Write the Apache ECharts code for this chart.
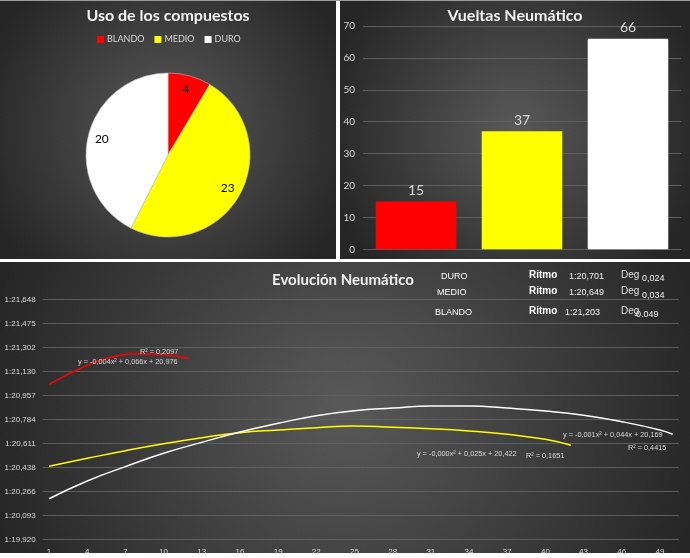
<!DOCTYPE html>
<html><head><meta charset="utf-8">
<script src="https://cdn.jsdelivr.net/npm/echarts@6/dist/echarts.min.js"></script>
<style>html,body{margin:0;padding:0;background:#fff;overflow:hidden}#c{width:690px;height:558px}</style>
</head><body><div id="c"></div>
<script>
// ---- data ----
const compounds = ['BLANDO', 'MEDIO', 'DURO'];
const compoundColors = ['#ff0000', '#ffff00', '#ffffff'];
const compoundUse = [4, 23, 20];
const tyreLaps = [15, 37, 66];
const barTicks = [0, 70, 10];

const lapCategories = ['1','2','3','4','5','6','7','8','9','10','11','12','13','14','15','16','17','18','19','20',
  '21','22','23','24','25','26','27','28','29','30','31','32','33','34','35','36','37','38','39','40',
  '41','42','43','44','45','46','47','48','49','50'];
const yTickLabels = ['1:19,920','1:20,093','1:20,266','1:20,438','1:20,611','1:20,784','1:20,957','1:21,130','1:21,302','1:21,475','1:21,648'];
const yBase = 79.92;   // seconds of first tick
const yStep = 0.1728;  // seconds between ticks

const redLaps = [1, 4, 6, 8, 10, 12];
const redTimes = [81.036, 81.173, 81.233, 81.256, 81.251, 81.220];
const yellowLaps = [1, 4, 7, 10, 13, 16, 19, 22, 25, 28, 31, 34, 37, 40, 42];
const yellowTimes = [80.446, 80.503, 80.558, 80.608, 80.652, 80.688, 80.707, 80.724, 80.736, 80.726, 80.716, 80.700, 80.676, 80.640, 80.597];
const whiteLaps = [1, 4, 7, 10, 13, 16, 19, 22, 25, 28, 31, 34, 37, 40, 43, 46, 49, 50];
const whiteTimes = [80.212, 80.340, 80.443, 80.539, 80.618, 80.693, 80.755, 80.810, 80.846, 80.865, 80.880, 80.880, 80.865, 80.844, 80.813, 80.767, 80.707, 80.676];

const statCompounds = ['DURO', 'MEDIO', 'BLANDO'];
const statPace = ['1:20,701', '1:20,649', '1:21,203'];
const statDeg = ['0,024', '0,034', '0.049'];

const trendEq = ['y = -0,004x\u00B2 + 0,066x + 20,976', 'y = -0,000x\u00B2 + 0,025x + 20,422', 'y = -0,001x\u00B2 + 0,044x + 20,169'];
const trendR2 = ['R\u00B2 = 0,2097', 'R\u00B2 = 0,1651', 'R\u00B2 = 0,4415'];

const titles = ['Uso de los compuestos', 'Vueltas Neum\u00E1tico', 'Evoluci\u00F3n Neum\u00E1tico'];

// ---- chart ----
const chart = echarts.init(document.getElementById('c'), null, {renderer: 'canvas'});
const bgGrad = (r) => ({type: 'radial', x: 0.5, y: 0.5, r: r, colorStops: [{offset: 0, color: '#595959'}, {offset: 1, color: '#262626'}]});
const TXT = '#d9d9d9';
const small = 'Liberation Sans, Arial, sans-serif';
const toTick = v => (v - yBase) / yStep;
const mkLine = (laps, times) => laps.map((l, i) => [String(l), toTick(times[i])]);

function txt(x, y, text, font, fill, align, extra) {
  return Object.assign({type: 'text', x: x, y: y, z: 100, silent: true,
    style: {text: text, font: font, fill: fill || TXT, textAlign: align || 'left', textVerticalAlign: 'middle'}}, extra || {});
}
const titleShadow = {shadowColor: 'rgba(0,0,0,0.7)', shadowBlur: 3, shadowOffsetX: 1, shadowOffsetY: 1};
function title(x, y, text, size) {
  const t = txt(x, y, text, 'bold ' + size + 'px Lato, sans-serif', '#f2f2f2', 'center');
  Object.assign(t.style, titleShadow);
  return t;
}

const graphics = [
  {type: 'rect', z: -10, silent: true, shape: {x: 0, y: 0, width: 690, height: 1}, style: {fill: '#9a9a9a'}},
  {type: 'rect', z: -10, silent: true, shape: {x: 0, y: 1, width: 336, height: 258}, style: {fill: bgGrad(0.75)}},
  {type: 'rect', z: -10, silent: true, shape: {x: 340, y: 1, width: 350, height: 258}, style: {fill: bgGrad(0.75)}},
  {type: 'rect', z: -10, silent: true, shape: {x: 0, y: 262, width: 690, height: 291}, style: {fill: bgGrad(1.25)}},
  title(168, 16, titles[0], 16),
  title(515, 16, titles[1], 16),
  title(343, 280, titles[2], 15)
];
const rowY = [276.5, 293, 312.5];
const labX = [441, 437, 435];
statCompounds.forEach((c, i) => {
  graphics.push(txt(labX[i], rowY[i], c, '9px ' + small, '#ffffff'));
  graphics.push(txt(529, rowY[i] - 1.5, 'Ritmo', 'bold 10px ' + small, '#ffffff'));
  graphics.push(txt(i === 2 ? 565 : 569, rowY[i], statPace[i], '9px ' + small, '#f2f2f2'));
  graphics.push(txt(621, rowY[i] - 1.5, 'Deg', '10px ' + small, '#e0e0e0'));
  graphics.push(txt(i === 2 ? 636 : 642, rowY[i] + 2.5, statDeg[i], '9px ' + small, '#f2f2f2'));
});
const eqFont = '7.3px Liberation Sans, Arial, sans-serif';
graphics.push(txt(78, 362, trendEq[0], eqFont));
graphics.push(txt(140, 352, trendR2[0], eqFont));
graphics.push(txt(417, 453.5, trendEq[1], eqFont));
graphics.push(txt(526, 455.5, trendR2[1], eqFont));
graphics.push(txt(563, 434.5, trendEq[2], eqFont));
graphics.push(txt(628, 447.5, trendR2[2], eqFont));

const option = {
  animation: false,
  backgroundColor: 'transparent',
  graphic: graphics,
  legend: {
    data: compounds.map((n, i) => ({name: n, itemStyle: {color: compoundColors[i], borderWidth: 0}})),
    left: 97, top: 35, padding: 0, itemWidth: 7, itemHeight: 7, itemGap: 10, selectedMode: false,
    icon: 'rect', itemStyle: {borderWidth: 0},
    textStyle: {color: TXT, fontSize: 9, fontFamily: 'Lato, sans-serif', padding: [0, 0, 0, -2]}
  },
  grid: [
    {left: 363, right: 9, top: 26, bottom: 308.7},
    {left: 42.7, right: 11, top: 299.3, bottom: 18.7}
  ],
  xAxis: [
    {gridIndex: 0, type: 'category', data: compounds, axisLabel: {show: false}, axisTick: {show: false}, axisLine: {show: false}},
    {gridIndex: 1, type: 'category', data: lapCategories, boundaryGap: true,
      axisLabel: {interval: 2, color: TXT, fontSize: 8, fontFamily: 'Liberation Sans, sans-serif', margin: 8},
      axisTick: {show: false}, axisLine: {show: false}}
  ],
  yAxis: [
    {gridIndex: 0, type: 'value', min: barTicks[0], max: barTicks[1], interval: barTicks[2],
      axisLabel: {color: TXT, fontSize: 10, fontFamily: 'Lato, sans-serif', margin: 8},
      splitLine: {lineStyle: {color: '#5e5e5e', width: 1}}, axisLine: {show: false}, axisTick: {show: false}},
    {gridIndex: 1, type: 'value', min: 0, max: yTickLabels.length - 1, interval: 1,
      axisLabel: {color: TXT, fontSize: 8, fontFamily: 'Liberation Sans, sans-serif', margin: 7,
        formatter: v => yTickLabels[Math.round(v)]},
      splitLine: {lineStyle: {color: '#5e5e5e', width: 1}}, axisLine: {show: false}, axisTick: {show: false}}
  ],
  series: [
    {type: 'pie', center: [168, 155], radius: 82, startAngle: 90, clockwise: true,
      data: compounds.map((n, i) => ({name: n, value: compoundUse[i], itemStyle: {color: compoundColors[i]}})),
      itemStyle: {borderColor: '#bfbfbf', borderWidth: 0.6},
      label: {show: false}, labelLine: {show: false}, emphasis: {disabled: true}},
    {type: 'pie', center: [168, 155], radius: [48, 82], startAngle: 90, clockwise: true, silent: true,
      data: compounds.map((n, i) => ({name: n, value: compoundUse[i], itemStyle: {color: 'rgba(0,0,0,0)'}})),
      label: {show: true, position: 'inside', formatter: '{c}', color: '#000', fontSize: 12, fontFamily: 'Lato, sans-serif'},
      labelLine: {show: false}, emphasis: {disabled: true}},
    {type: 'bar', xAxisIndex: 0, yAxisIndex: 0, barWidth: '76%',
      data: tyreLaps.map((v, i) => ({value: v, itemStyle: {color: compoundColors[i]}})),
      label: {show: true, position: 'top', distance: 4, color: TXT, fontSize: 14, fontFamily: 'Lato, sans-serif'}},
    {type: 'line', xAxisIndex: 1, yAxisIndex: 1, data: mkLine(redLaps, redTimes), smooth: true,
      showSymbol: false, lineStyle: {color: compoundColors[0], width: 1.5}},
    {type: 'line', xAxisIndex: 1, yAxisIndex: 1, data: mkLine(yellowLaps, yellowTimes), smooth: true,
      showSymbol: false, lineStyle: {color: compoundColors[1], width: 1.5}},
    {type: 'line', xAxisIndex: 1, yAxisIndex: 1, data: mkLine(whiteLaps, whiteTimes), smooth: true,
      showSymbol: false, lineStyle: {color: compoundColors[2], width: 1.5}}
  ]
};
chart.setOption(option);
</script></body></html>
